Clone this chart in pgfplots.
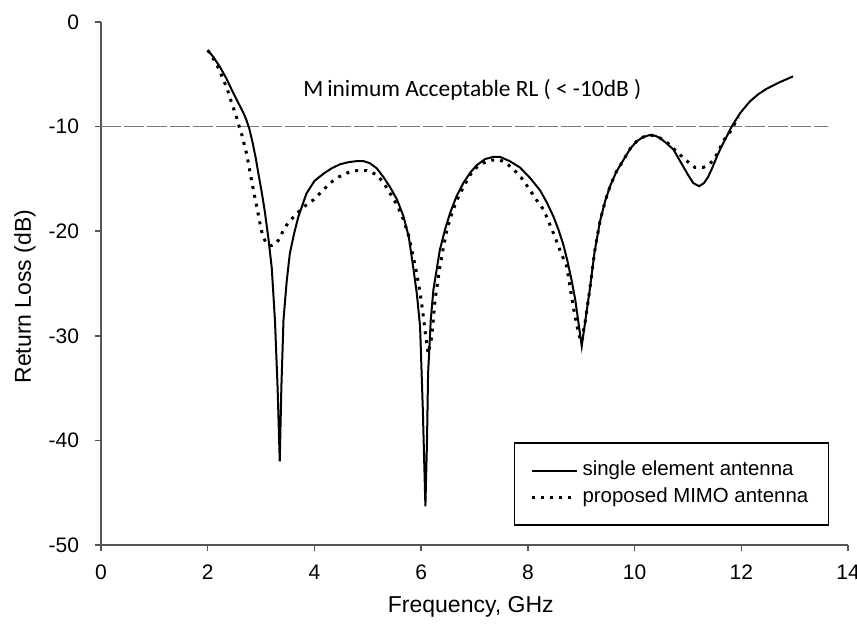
\documentclass[border=0pt]{standalone}
\usepackage{pgfplots}
\pgfplotsset{compat=1.18}
\usepackage{fontspec}
\setmainfont{Liberation Sans}
\newfontfamily\calib{Carlito}

\definecolor{axgray}{HTML}{555555}
\definecolor{refgray}{HTML}{7A7A7A}

\pgfplotstableread{
x y
2.00 -2.7
2.10 -3.3
2.23 -4.3
2.35 -5.4
2.48 -6.8
2.58 -7.8
2.67 -8.7
2.72 -9.3
2.78 -10.2
2.84 -11.5
2.90 -13.0
2.95 -14.5
3.01 -16.2
3.07 -18.1
3.14 -20.8
3.20 -23.5
3.26 -28.5
3.31 -35.0
3.35 -42.0
3.38 -35.0
3.42 -28.5
3.48 -24.8
3.54 -22.1
3.62 -20.2
3.70 -18.6
3.85 -16.4
4.00 -15.2
4.17 -14.5
4.32 -14.0
4.48 -13.6
4.64 -13.4
4.79 -13.3
4.92 -13.3
5.04 -13.5
5.17 -14.0
5.29 -14.8
5.42 -15.8
5.55 -17.0
5.67 -18.6
5.77 -20.6
5.85 -23.4
5.92 -26.0
5.98 -29.1
6.03 -36.8
6.08 -46.3
6.11 -40.0
6.13 -33.6
6.18 -28.5
6.23 -25.6
6.35 -21.8
6.45 -19.8
6.54 -18.3
6.66 -16.7
6.79 -15.4
6.92 -14.4
7.04 -13.7
7.20 -13.1
7.35 -12.9
7.48 -12.9
7.66 -13.3
7.85 -13.9
8.04 -14.9
8.23 -16.1
8.35 -17.2
8.48 -18.6
8.57 -19.8
8.66 -21.2
8.74 -22.8
8.82 -24.7
8.89 -26.6
8.95 -28.8
9.01 -31.0
9.07 -28.8
9.16 -25.6
9.25 -22.0
9.35 -19.1
9.45 -17.1
9.54 -15.7
9.66 -14.3
9.79 -13.2
9.92 -12.1
10.04 -11.4
10.16 -11.0
10.29 -10.8
10.40 -10.9
10.48 -11.1
10.60 -11.6
10.73 -12.2
10.82 -13.0
10.91 -13.8
11.00 -14.6
11.10 -15.4
11.21 -15.7
11.30 -15.4
11.38 -14.8
11.46 -13.9
11.54 -12.9
11.62 -12.0
11.69 -11.3
11.82 -10.0
11.98 -8.7
12.16 -7.6
12.32 -6.9
12.47 -6.4
12.70 -5.8
12.97 -5.2
}\single

\pgfplotstableread{
x y
2.00 -2.7
2.07 -3.2
2.14 -3.8
2.22 -4.6
2.29 -5.5
2.36 -6.3
2.42 -7.3
2.48 -8.2
2.54 -9.1
2.59 -10.0
2.64 -10.8
2.73 -12.6
2.82 -15.1
2.92 -17.7
3.01 -20.0
3.08 -21.0
3.17 -21.4
3.25 -21.3
3.32 -20.9
3.39 -20.2
3.48 -19.4
3.58 -18.8
3.67 -18.3
3.82 -17.6
3.98 -17.0
4.14 -16.2
4.29 -15.4
4.46 -14.8
4.63 -14.4
4.80 -14.2
4.98 -14.2
5.17 -14.6
5.30 -15.4
5.42 -16.4
5.55 -17.5
5.67 -18.9
5.77 -20.5
5.85 -22.4
5.92 -24.1
5.98 -25.9
6.03 -27.7
6.07 -29.4
6.13 -31.7
6.20 -30.1
6.26 -26.6
6.35 -23.4
6.42 -21.5
6.48 -19.9
6.57 -18.4
6.67 -17.0
6.80 -15.7
6.92 -14.6
7.04 -13.9
7.16 -13.5
7.32 -13.2
7.48 -13.2
7.60 -13.5
7.79 -14.4
7.91 -15.1
8.03 -16.0
8.16 -17.0
8.29 -17.9
8.35 -18.6
8.48 -20.2
8.60 -21.8
8.73 -23.4
8.79 -25.3
8.85 -27.2
8.95 -29.8
9.00 -30.6
9.07 -28.8
9.16 -25.6
9.25 -22.0
9.35 -19.1
9.45 -17.1
9.54 -15.7
9.66 -14.3
9.79 -13.2
9.92 -12.1
10.04 -11.4
10.16 -11.0
10.29 -10.8
10.40 -10.9
10.48 -11.1
10.63 -11.6
10.79 -12.4
10.96 -13.2
11.13 -13.9
11.29 -13.9
11.40 -13.6
11.48 -13.2
11.57 -12.4
11.66 -11.4
11.79 -10.5
11.88 -9.7
11.95 -9.1
}\mimo

\begin{document}
\begin{tikzpicture}
\begin{axis}[
    at={(0,0)}, anchor=south west,
    scale only axis,
    width=373.5pt, height=261.5pt,
    xmin=0, xmax=14, ymin=-50, ymax=0,
    xtick={0,2,...,14}, ytick={-50,-40,...,0},
    axis x line*=bottom, axis y line*=left,
    axis line style={axgray, line width=0.75pt},
    tick style={axgray, line width=0.75pt},
    tick align=outside, major tick length=3pt,
    /pgf/number format/assume math mode=true,
    ticklabel style={font=\fontsize{10.5}{12}\selectfont},
    xticklabel style={yshift=-3.5pt},
    yticklabel style={xshift=-4.5pt},
    label style={font=\fontsize{11.5}{13}\selectfont},
    xlabel={Frequency, GHz},
    ylabel={Return Loss (dB)},
    xlabel style={at={(axis description cs:0.495,-0.1185)}, anchor=center},
    ylabel style={at={(axis description cs:-0.102,0.475)}, anchor=center, rotate=0},
    legend cell align=left,
    legend style={at={(axis cs:7.74,-40.2)}, anchor=north west,
        draw=black, line width=0.6pt, inner xsep=8pt, inner ysep=7pt,
        font=\fontsize{10.2}{12}\selectfont,
        nodes={text height=7.5pt, text depth=2.5pt, inner ysep=1.75pt}},
    legend image code/.code={\draw[#1] (0pt,0pt) -- (22.5pt,0pt);},
]
\addplot[refgray, line width=0.75pt, dash pattern=on 10pt off 1.5pt, forget plot]
    coordinates {(0,-10) (13.62,-10)};
\addplot[black, line width=1pt] table[x=x, y=y] {\single};
\addlegendentry{single element antenna}
\addplot[black, line width=1.5pt, dash pattern=on 1.5pt off 3pt] table[x=x, y=y] {\mimo};
\addlegendentry{proposed MIMO antenna}
\node[font=\calib\fontsize{11.7}{14}\selectfont] at (axis cs:6.96,-6.5)
    {M\,inimum Acceptable RL ( < -10dB )};
\end{axis}
\pgfresetboundingbox
\path[use as bounding box] (-50.5pt,-41.5pt) rectangle (378pt,272.5pt);
\end{tikzpicture}
\end{document}
